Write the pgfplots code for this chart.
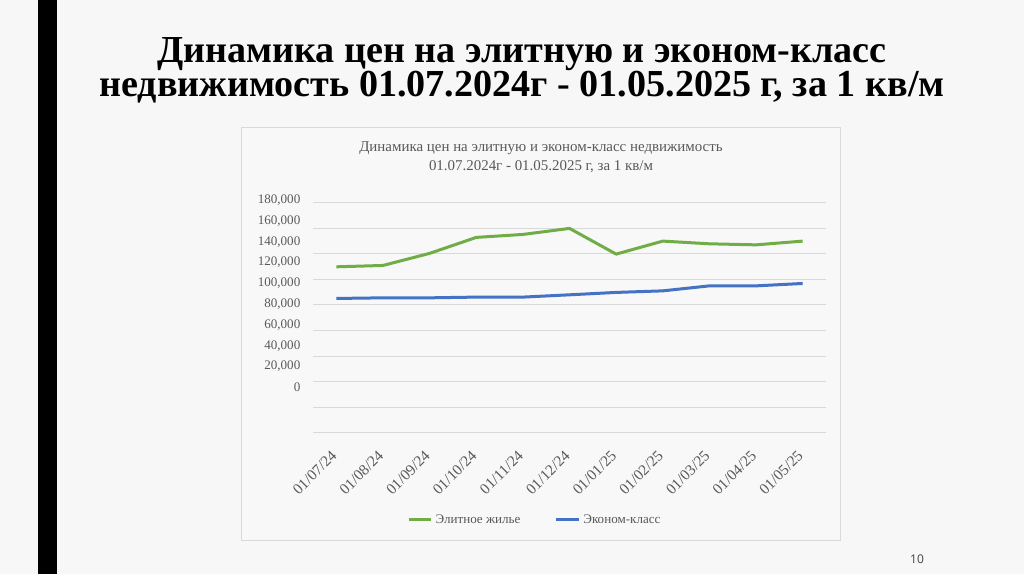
\documentclass[border=0pt]{standalone}
\usepackage{fontspec}
\setmainfont{Liberation Serif}
\newfontfamily\pagenumfont{Open Sans}
\usepackage{pgfplots}
\pgfplotsset{compat=1.18}

\definecolor{slidebg}{HTML}{F7F7F7}
\definecolor{chartbg}{HTML}{F8F8F8}
\definecolor{boxline}{HTML}{D9D9D9}
\definecolor{gridc}{HTML}{D9D9D9}
\definecolor{txtgray}{HTML}{595959}
\definecolor{elite}{HTML}{70AD47}
\definecolor{econ}{HTML}{4472C4}

\newcommand\chfont{\fontsize{9.8}{11}\selectfont}

\begin{document}
\begin{tikzpicture}[x=0.75pt,y=0.75pt]
\useasboundingbox (0,0) rectangle (1024,574);
\fill[slidebg] (0,0) rectangle (1024,574);
\fill[black] (38,0) rectangle (57,574);

% slide title
\node[anchor=base, font=\fontsize{28.6}{30}\selectfont\bfseries] at (522,511)
  {Динамика цен на элитную и эконом-класс};
\node[anchor=base, font=\fontsize{28.6}{30}\selectfont\bfseries] at (522,477)
  {недвижимость 01.07.2024г - 01.05.2025 г, за 1 кв/м};

% chart frame
\filldraw[fill=chartbg, draw=boxline, line width=0.75pt] (241.5,33.3) rectangle (840,446.5);
\node[text=txtgray, font=\fontsize{11.2}{14.25}\selectfont, align=center] at (541,417)
  {Динамика цен на элитную и эконом-класс недвижимость\\01.07.2024г - 01.05.2025 г, за 1 кв/м};

\node[text=black!75, font=\pagenumfont\fontsize{9}{10}\selectfont] at (917,15) {10};

\begin{axis}[
    at={(234.75pt,105.98pt)}, anchor=south west,
    scale only axis,
    width=384.75pt, height=174.45pt,
    xmin=-0.5, xmax=10.5,
    ymin=-43450, ymax=180000,
    axis line style={draw=none},
    tick style={draw=none},
    xtick={0,...,10},
    xticklabels={01/07/24,01/08/24,01/09/24,01/10/24,01/11/24,01/12/24,
                 01/01/25,01/02/25,01/03/25,01/04/25,01/05/25},
    xticklabel style={xshift=0.75pt, yshift=-13pt, rotate=45, anchor=east,
                      font=\fontsize{11.5}{12}\selectfont, text=txtgray},
    ytick={0,20000,...,180000},
    scaled y ticks=false,
    yticklabel={\pgfmathprintnumber[fixed,1000 sep={,},assume math mode=true]{\tick}},
    yticklabel style={font=\chfont, text=txtgray, xshift=-6pt},
    extra y ticks={-43450,-18900,5650,30200,54750,79300,103850,128400,152950,177500},
    extra y tick labels={},
    extra y tick style={grid=major, major grid style={gridc, line width=0.75pt}},
    legend style={at={(0.433,-0.375)}, anchor=center, legend columns=2,
                  draw=none, fill=none, font=\chfont, text=txtgray,
                  /tikz/every even column/.append style={column sep=24pt}},
    legend cell align=left,
]
\addplot[elite, line width=2.25pt, line join=round] coordinates {
  (0,115900) (1,117200) (2,128800) (3,144150) (4,147000) (5,152800)
  (6,128100) (7,140600) (8,138000) (9,137000) (10,140600)
};
\addlegendentry{Элитное жилье}
\addplot[econ, line width=2.25pt, line join=round] coordinates {
  (0,85500) (1,86100) (2,86100) (3,86800) (4,86800) (5,89000)
  (6,91300) (7,92800) (8,97600) (9,97600) (10,99900)
};
\addlegendentry{Эконом-класс}
\end{axis}
\end{tikzpicture}
\end{document}
